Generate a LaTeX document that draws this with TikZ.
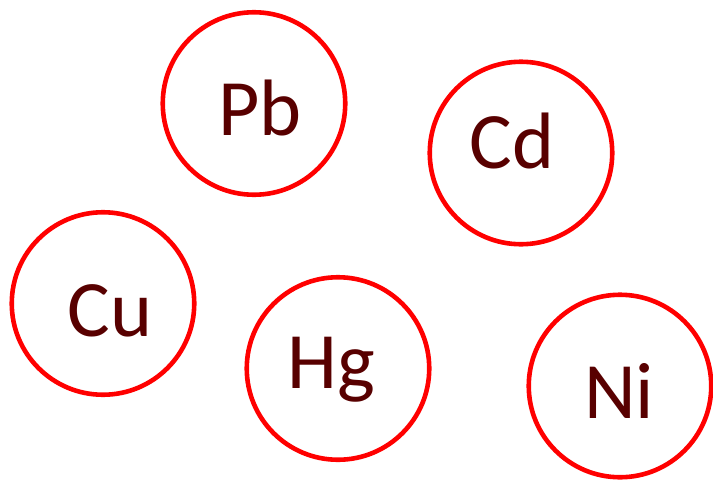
\documentclass[tikz,border=0pt]{standalone}
\usepackage{fontspec}
\setmainfont{Carlito}
\definecolor{ringred}{RGB}{255,0,0}
\definecolor{txtred}{RGB}{88,0,0}
\begin{document}
\begin{tikzpicture}[x=1pt,y=-1pt,
  ring/.style={draw=ringred,line width=4.6pt,circle,minimum size=182.5pt,inner sep=0pt},
  lbl/.style={text=txtred,font=\fontsize{80}{80}\selectfont,anchor=base,inner sep=0pt}]
\useasboundingbox (0,0) rectangle (713,480);
\node[ring] (pb) at (254,103.5) {};
\node[ring] (cd) at (521,153) {};
\node[ring] (cu) at (103,303.5) {};
\node[ring] (hg) at (338,368.5) {};
\node[ring] (ni) at (620,386) {};
\node[lbl] (pbt) at (260,135) {Pb};
\node[lbl] (cdt) at (512,168) {Cd};
\node[lbl] (cut) at (110,336) {Cu};
\node[lbl] (hgt) at (331,388) {Hg};
\node[lbl] (nit) at (619,418) {Ni};
\end{tikzpicture}
\end{document}
